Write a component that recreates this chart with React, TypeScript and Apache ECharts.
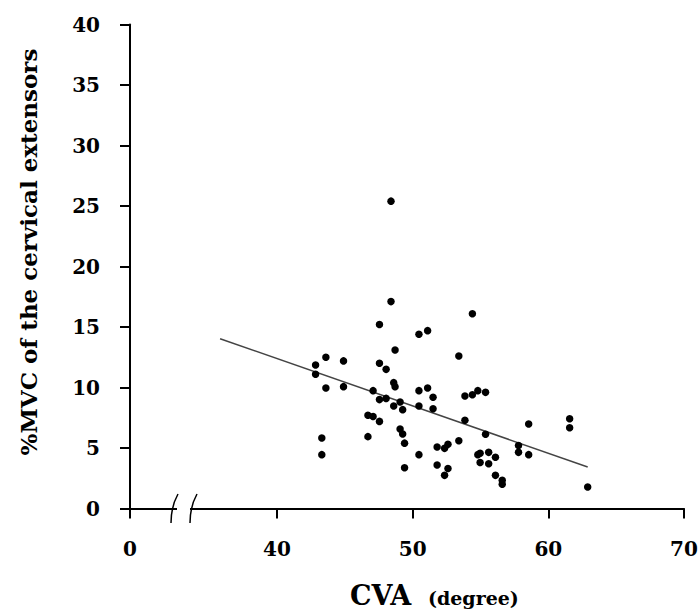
import React, { useEffect, useRef } from "react";
import * as echarts from "echarts";

// CVA (degree) vs %MVC of the cervical extensors
const cva: number[] = [
  48.4, 48.4, 47.55, 50.46, 51.1, 54.4, 48.7, 53.4, 42.84, 43.6,
  44.9, 47.55, 48.04, 42.84, 43.6, 44.9, 47.08, 48.6, 48.7, 47.55,
  48.04, 49.07, 48.6, 49.26, 50.46, 51.1, 51.5, 50.46, 51.5, 53.85,
  54.4, 54.8, 55.37, 53.85, 46.7, 47.08, 47.55, 49.07, 49.26, 49.4,
  46.7, 43.3, 43.3, 49.4, 50.46, 51.8, 52.35, 52.6, 53.4, 51.8,
  52.6, 52.35, 55.37, 54.8, 54.97, 55.6, 56.1, 54.97, 55.6, 56.1,
  56.6, 56.6, 57.8, 57.8, 58.55, 58.55, 61.57, 61.57, 62.9,
];
const mvc: number[] = [
  25.4, 17.1, 15.2, 14.4, 14.7, 16.1, 13.1, 12.6, 11.86, 12.5,
  12.2, 12.0, 11.5, 11.1, 9.96, 10.07, 9.74, 10.4, 10.07, 9.0,
  9.1, 8.8, 8.47, 8.17, 9.74, 9.96, 9.2, 8.47, 8.25, 9.3,
  9.4, 9.74, 9.6, 7.3, 7.7, 7.6, 7.2, 6.57, 6.16, 5.4,
  5.94, 5.83, 4.45, 3.37, 4.45, 5.08, 4.97, 5.3, 5.6, 3.6,
  3.3, 2.74, 6.13, 4.45, 4.56, 4.64, 4.23, 3.8, 3.7, 2.74,
  2.33, 2.0, 5.2, 4.64, 6.98, 4.45, 7.42, 6.68, 1.78,
];
// regression line end points
const fitX: number[] = [35.8, 62.9];
const fitY: number[] = [14.03, 3.43];

// x axis has a break: the position of "0" stands for this value on the scale
const xBreakMin = 29.16;
const xTicks: number[] = [xBreakMin, 40, 50, 60, 70];
const yTicksInterval = 5;

const FONT = "'DejaVu Serif', 'Liberation Serif', serif";

export default function App() {
  const ref = useRef<HTMLDivElement>(null);
  useEffect(() => {
    if (!ref.current) return;
    const chart = echarts.init(ref.current, undefined, { renderer: "svg" });
    const points = cva.map((x, i) => [x, mvc[i]]);
    const fit = fitX.map((x, i) => [x, fitY[i]]);
    chart.setOption({
      animation: false,
      backgroundColor: "#ffffff",
      grid: {
        left: 130,
        right: 16,
        top: 24.5,
        bottom: 100.5,
        containLabel: false,
        outerBoundsMode: "none",
      },
      xAxis: {
        type: "value",
        min: xBreakMin,
        max: 70,
        axisLine: { show: true, lineStyle: { color: "#000", width: 2 } },
        axisTick: {
          show: true,
          length: 10,
          customValues: xTicks,
          lineStyle: { color: "#000", width: 2 },
        },
        axisLabel: {
          customValues: xTicks,
          formatter: (v: number) => (v < 35 ? "0" : String(Math.round(v))),
          margin: 30,
          color: "#000",
          fontFamily: FONT,
          fontWeight: "bold",
          fontSize: 20,
        },
        splitLine: { show: false },
      },
      yAxis: {
        type: "value",
        min: 0,
        max: 40,
        interval: yTicksInterval,
        axisLine: { show: true, lineStyle: { color: "#000", width: 2 } },
        axisTick: { show: true, length: 10, lineStyle: { color: "#000", width: 2 } },
        axisLabel: {
          margin: 30,
          color: "#000",
          fontFamily: FONT,
          fontWeight: "bold",
          fontSize: 20,
        },
        splitLine: { show: false },
      },
      series: [
        {
          type: "line",
          data: fit,
          symbol: "none",
          lineStyle: { color: "#444", width: 1.5 },
          z: 2,
        },
        {
          type: "scatter",
          data: points,
          symbol: "circle",
          symbolSize: 7.5,
          itemStyle: { color: "#000", opacity: 1 },
          z: 3,
        },
      ],
      graphic: [
        {
          type: "rect",
          shape: { x: 177, y: 503, width: 13, height: 10 },
          style: { fill: "#fff" },
          z: 100,
        },
        {
          type: "bezierCurve",
          shape: { x1: 178, y1: 494, cpx1: 173, cpy1: 503, cpx2: 171, cpy2: 514, x2: 171, y2: 523 },
          style: { stroke: "#000", lineWidth: 1.5, fill: "none" },
          z: 101,
        },
        {
          type: "bezierCurve",
          shape: { x1: 197, y1: 494, cpx1: 192, cpy1: 503, cpx2: 190, cpy2: 514, x2: 190, y2: 523 },
          style: { stroke: "#000", lineWidth: 1.5, fill: "none" },
          z: 101,
        },
        {
          type: "text",
          x: 28,
          y: 252,
          rotation: Math.PI / 2,
          style: {
            text: "%MVC of the cervical extensors",
            fill: "#000",
            font: `bold 23px ${FONT}`,
            align: "center",
            verticalAlign: "middle",
          },
        },
        {
          type: "text",
          x: 350,
          y: 595,
          style: {
            text: "CVA",
            fill: "#000",
            font: `bold 27px ${FONT}`,
            lineHeight: 26,
            align: "left",
            verticalAlign: "middle",
          },
        },
        {
          type: "text",
          x: 428,
          y: 598,
          style: {
            text: "(degree)",
            fill: "#000",
            font: `bold 19px ${FONT}`,
            lineHeight: 19,
            align: "left",
            verticalAlign: "middle",
          },
        },
      ],
    });
    return () => chart.dispose();
  }, []);
  return <div ref={ref} style={{ width: 700, height: 609, position: "absolute", left: 0, top: 0 }} />;
}
